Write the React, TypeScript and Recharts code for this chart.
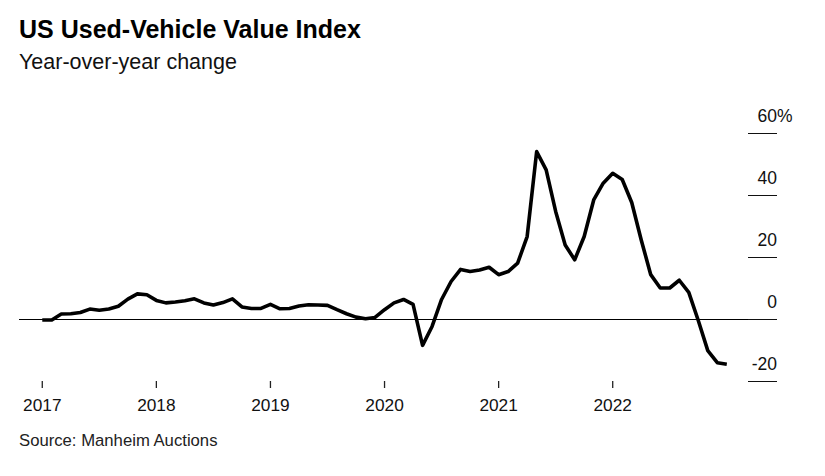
import React from "react";
import { LineChart, Line, XAxis, YAxis, ReferenceLine } from "recharts";

// monthly YoY change, Jan 2017 .. Jan 2023
const years = [2017, 2018, 2019, 2020, 2021, 2022, 2023];
const values2017 = [-0.3, -0.3, 1.6, 1.7, 2.1, 3.2, 2.8, 3.2, 4.1, 6.4, 8.1, 7.8];
const values2018 = [6.0, 5.2, 5.5, 5.9, 6.5, 5.2, 4.5, 5.3, 6.5, 3.9, 3.4, 3.4];
const values2019 = [4.7, 3.3, 3.4, 4.2, 4.6, 4.5, 4.4, 3.0, 1.7, 0.6, 0.1, 0.5];
const values2020 = [3.0, 5.2, 6.3, 4.7, -8.5, -2.4, 6.3, 12.1, 16.0, 15.3, 15.8, 16.7];
const values2021 = [14.3, 15.3, 18.0, 26.6, 54.0, 48.1, 34.7, 23.9, 19.1, 26.6, 38.4, 43.8];
const values2022 = [47.0, 45.0, 37.6, 25.5, 14.3, 10.0, 10.0, 12.5, 8.6, -0.5, -10.2, -14.1];
const values2023 = [-14.6];

const yTicks = [-20, 0, 20, 40, 60];
const xTicks = [2017, 2018, 2019, 2020, 2021, 2022];

const series = [values2017, values2018, values2019, values2020, values2021, values2022, values2023];
const data = series.flatMap((vals, i) =>
  vals.map((v, m) => ({ t: years[i] + m / 12, value: v }))
);

const FONT = '"Liberation Sans", Arial, Helvetica, sans-serif';

const YTick = (props: any) => {
  const { x, y, payload } = props;
  const v = payload.value;
  return (
    <g>
      <line x1={x - 29} x2={x} y1={y} y2={y} stroke="#111" strokeWidth={1} shapeRendering="crispEdges" />
      <text x={x} y={y - 10.7} textAnchor="end" fontSize={17.5} fill="#111" fontFamily={FONT}>
        {v}
      </text>
      {v === 60 && (
        <text x={x} y={y - 10.7} textAnchor="start" fontSize={17.5} fill="#111" fontFamily={FONT}>
          %
        </text>
      )}
    </g>
  );
};

export default function App() {
  return (
    <div style={{ position: "absolute", left: 0, top: 0, width: 825, height: 476, background: "#fff", fontFamily: FONT }}>
      <div style={{ position: "absolute", left: 19, top: 14, fontSize: 25, fontWeight: "bold", color: "#000", lineHeight: "30px", whiteSpace: "nowrap" }}>
        US Used-Vehicle Value Index
      </div>
      <div style={{ position: "absolute", left: 19, top: 49, fontSize: 21.5, color: "#111", lineHeight: "26px", whiteSpace: "nowrap" }}>
        Year-over-year change
      </div>
      <div style={{ position: "absolute", left: 19, top: 430, fontSize: 16.7, color: "#222", lineHeight: "22px", whiteSpace: "nowrap" }}>
        Source: Manheim Auctions
      </div>
      <div style={{ position: "absolute", left: 0, top: 0 }}>
        <LineChart width={825} height={476} data={data} margin={{ top: 133, right: 0, bottom: 65, left: 19 }}>
          <XAxis
            dataKey="t"
            type="number"
            domain={[2016.796, 2023.44]}
            ticks={xTicks}
            axisLine={false}
            tickSize={7}
            tickMargin={11}
            tickLine={{ stroke: "#222", strokeWidth: 1.3 }}
            tick={{ fontSize: 17.3, fill: "#111", fontFamily: FONT }}
            height={30}
            interval={0}
          />
          <YAxis
            orientation="right"
            domain={[-20, 60]}
            ticks={yTicks}
            width={48}
            axisLine={false}
            tickLine={false}
            tickSize={0}
            tickMargin={0}
            tick={<YTick />}
            interval={0}
          />
          <ReferenceLine y={0} stroke="#000" strokeWidth={1} shapeRendering="crispEdges" />
          <Line
            type="linear"
            dataKey="value"
            stroke="#000"
            strokeWidth={3.6}
            strokeLinejoin="round"
            dot={false}
            isAnimationActive={false}
          />
        </LineChart>
      </div>
    </div>
  );
}
